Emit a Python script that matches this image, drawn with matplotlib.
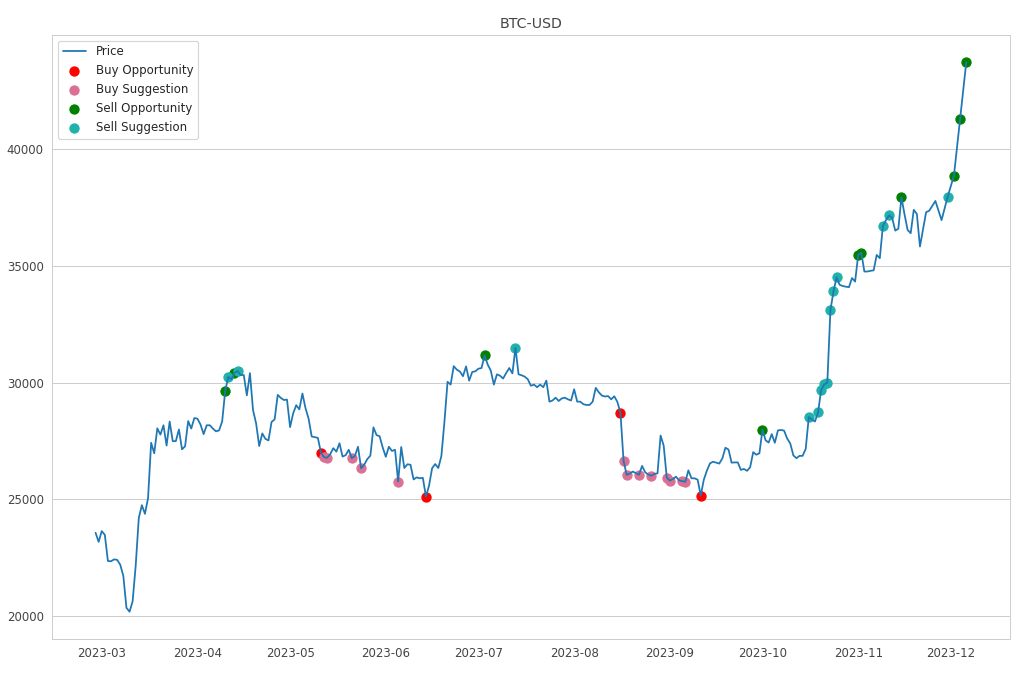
import matplotlib
matplotlib.use("Agg")
import matplotlib.pyplot as plt
import pandas as pd
import seaborn as sns

# daily closes, 2023-02-27 .. 2023-12-06
feb = [23570, 23180]
mar = [23640, 23480, 22360, 22350, 22430, 22410, 22200, 21720, 20360, 20190,
       20630, 22160, 24200, 24750, 24380, 25050, 27420, 26970, 28040, 27770,
       28170, 27300, 28330, 27490, 27490, 27990, 27140, 27270, 28350, 28030, 28480]
apr = [28450, 28200, 27790, 28170, 28170, 28030, 27910, 27950, 28330, 29650,
       30240, 30140, 30410, 30490, 30320, 30320, 29450, 30400, 28820, 28250,
       27280, 27820, 27590, 27520, 28310, 28420, 29470, 29340, 29250, 29270]
may = [28090, 28680, 29030, 28850, 29530, 28900, 28450, 27690, 27660, 27630,
       27000, 26800, 26780, 26930, 27190, 27040, 27400, 26830, 26890, 27120,
       26760, 26860, 27250, 26330, 26480, 26720, 26870, 28080, 27750, 27700, 27220]
jun = [26820, 27250, 27070, 27120, 25760, 27240, 26340, 26500, 26480, 25850,
       25940, 25900, 25920, 25120, 25580, 26330, 26510, 26340, 26850, 28330,
       30030, 29910, 30700, 30550, 30470, 30270, 30690, 30080, 30450, 30480]
jul = [30590, 30620, 31160, 30770, 30510, 29910, 30350, 30290, 30170, 30410,
       30620, 30390, 31480, 30350, 30310, 30250, 30140, 29860, 29910, 29800,
       29910, 29800, 30080, 29180, 29230, 29350, 29210, 29320, 29350, 29280, 29230]
aug = [29710, 29180, 29180, 29070, 29040, 29040, 29180, 29770, 29580, 29440,
       29400, 29420, 29280, 29410, 29170, 28700, 26660, 26050, 26100, 26190,
       26120, 26050, 26430, 26160, 26060, 26010, 26090, 26110, 27730, 27300, 25930]
sep = [25800, 25870, 25970, 25810, 25780, 25750, 26240, 25900, 25900, 25840,
       25160, 25840, 26230, 26540, 26610, 26570, 26530, 26750, 27210, 27130,
       26570, 26580, 26580, 26260, 26300, 26220, 26370, 27020, 26910, 26970]
oct_ = [27980, 27530, 27430, 27790, 27420, 27950, 27970, 27940, 27600, 27390,
        26880, 26760, 26860, 26860, 27160, 28520, 28420, 28330, 28720, 29680,
        29920, 29990, 33090, 33900, 34500, 34180, 34130, 34100, 34080, 34470, 34320]
nov = [35460, 35560, 34750, 34750, 34780, 34800, 35460, 35320, 36700, 36950,
       37150, 37050, 36500, 36580, 37920, 37200, 36530, 36390, 37390, 37210,
       35820, 36560, 37290, 37350, 37560, 37770, 37360, 36950, 37450, 37960]
dec = [38400, 38850, 40050, 41270, 42500, 43710]

buy_opportunity = ["2023-05-11", "2023-06-14", "2023-08-16", "2023-09-11"]
buy_suggestion = ["2023-05-12", "2023-05-13", "2023-05-21", "2023-05-24", "2023-06-05",
                  "2023-08-17", "2023-08-18", "2023-08-22", "2023-08-26", "2023-08-31",
                  "2023-09-01", "2023-09-05", "2023-09-06"]
sell_opportunity = ["2023-04-10", "2023-04-13", "2023-07-03", "2023-10-01", "2023-11-01",
                    "2023-11-02", "2023-11-15", "2023-12-02", "2023-12-04", "2023-12-06"]
sell_suggestion = ["2023-04-11", "2023-04-14", "2023-07-13", "2023-10-16", "2023-10-19",
                   "2023-10-20", "2023-10-21", "2023-10-22", "2023-10-23", "2023-10-24",
                   "2023-10-25", "2023-11-09", "2023-11-11", "2023-11-30"]

prices = feb + mar + apr + may + jun + jul + aug + sep + oct_ + nov + dec
price = pd.Series(prices, index=pd.date_range("2023-02-27", periods=len(prices), freq="D"))

sns.set_style("whitegrid")
plt.rcParams["font.family"] = ["DejaVu Sans"]

fig, ax = plt.subplots(figsize=(12, 8), dpi=85)
ax.plot(price.index, price.values, label="Price")

signals = [
    (buy_opportunity, "red", "Buy Opportunity"),
    (buy_suggestion, "palevioletred", "Buy Suggestion"),
    (sell_opportunity, "green", "Sell Opportunity"),
    (sell_suggestion, "lightseagreen", "Sell Suggestion"),
]
for days, color, name in signals:
    idx = pd.to_datetime(days)
    ax.scatter(idx, price.loc[idx].values, color=color, s=60, label=name)

ax.grid(False, axis="x")
ax.tick_params(labelcolor="#444444")
ax.set_title("BTC-USD", color="#444444")
ax.legend(loc="upper left", frameon=True)

fig.subplots_adjust(left=0.051, right=0.990, top=0.949, bottom=0.060)
fig.savefig("out.png", dpi=85)
